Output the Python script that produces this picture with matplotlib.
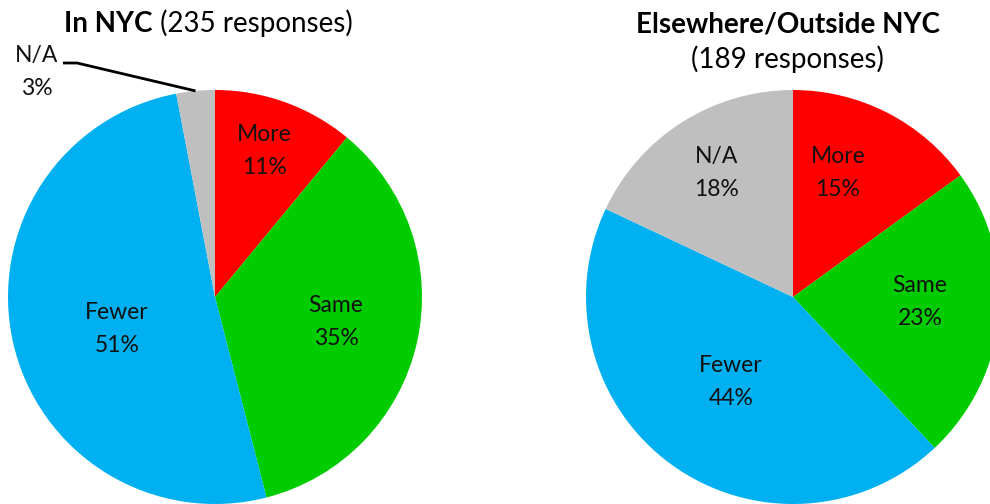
"""
Two pies: In NYC vs Elsewhere/Outside NYC (More / Same / Fewer / N/A).
"""

import matplotlib
matplotlib.use("Agg")
import matplotlib.pyplot as plt
import numpy as np

CATEGORIES = ["More", "Same", "Fewer", "N/A"]
NYC_PCT = [11, 35, 51, 3]
OUTSIDE_PCT = [15, 23, 44, 18]
NYC_RESPONSES = 235
OUTSIDE_RESPONSES = 189

COLORS = ["#FF0000", "#00CC00", "#00B0F0", "#BFBFBF"]

plt.rcParams["font.family"] = ["Lato", "DejaVu Sans"]

W, H = 990, 504
R = 207
LEFT_C = (215, 207)
RIGHT_C = (793, 207)

# label centres, as offsets from the pie centre in units of radius
LEFT_LABEL_POS = [(0.237, 0.705), (0.585, -0.121), (-0.473, -0.155), None]
RIGHT_LABEL_POS = [(0.217, 0.599), (0.614, -0.024), (-0.30, -0.41), (-0.367, 0.599)]

LABEL_FS = 16.5
LABEL_LS = 1.7
TITLE_FS = 20


def draw_pie(ax, values, center, label_pos):
    ax.pie(values, colors=COLORS, startangle=90, counterclock=False,
           center=center, radius=R, wedgeprops=dict(linewidth=0))
    for cat, val, pos in zip(CATEGORIES, values, label_pos):
        if pos is None:
            continue
        ax.text(center[0] + pos[0] * R, center[1] + pos[1] * R,
                f"{cat}\n{val}%", ha="center", va="center",
                fontsize=LABEL_FS, linespacing=LABEL_LS, color="#111")


fig = plt.figure(figsize=(W / 100, H / 100), dpi=100)
ax = fig.add_axes([0, 0, 1, 1])

draw_pie(ax, NYC_PCT, LEFT_C, LEFT_LABEL_POS)
draw_pie(ax, OUTSIDE_PCT, RIGHT_C, RIGHT_LABEL_POS)

# N/A label outside the left pie with a leader line
na_val = NYC_PCT[3]
mid = 360 * (sum(NYC_PCT[:3]) + na_val / 2) / sum(NYC_PCT)
theta = np.deg2rad(90 - mid)
edge = (LEFT_C[0] + R * np.cos(theta), LEFT_C[1] + R * np.sin(theta))
ax.text(37, 432, f"N/A\n{na_val}%", ha="center", va="center",
        fontsize=LABEL_FS, linespacing=LABEL_LS, color="#111")
ax.plot([63, 77, edge[0]], [441, 441, edge[1]], color="black", lw=2,
        solid_capstyle="butt")

# titles
t1 = ax.text(153, 472, "In NYC", fontsize=TITLE_FS, fontweight="bold",
             ha="right", va="baseline")
ax.annotate(f" ({NYC_RESPONSES} responses)", xy=(1, 0), xycoords=t1,
            fontsize=TITLE_FS, va="bottom", ha="left")
ax.text(788, 472, "Elsewhere/Outside NYC", fontsize=TITLE_FS,
        fontweight="bold", ha="center", va="baseline")
ax.text(787, 436, f"({OUTSIDE_RESPONSES} responses)", fontsize=TITLE_FS,
        ha="center", va="baseline")

ax.set_xlim(0, W)
ax.set_ylim(0, H)
ax.set_aspect("auto")
ax.axis("off")

fig.savefig("out.png", dpi=100)
